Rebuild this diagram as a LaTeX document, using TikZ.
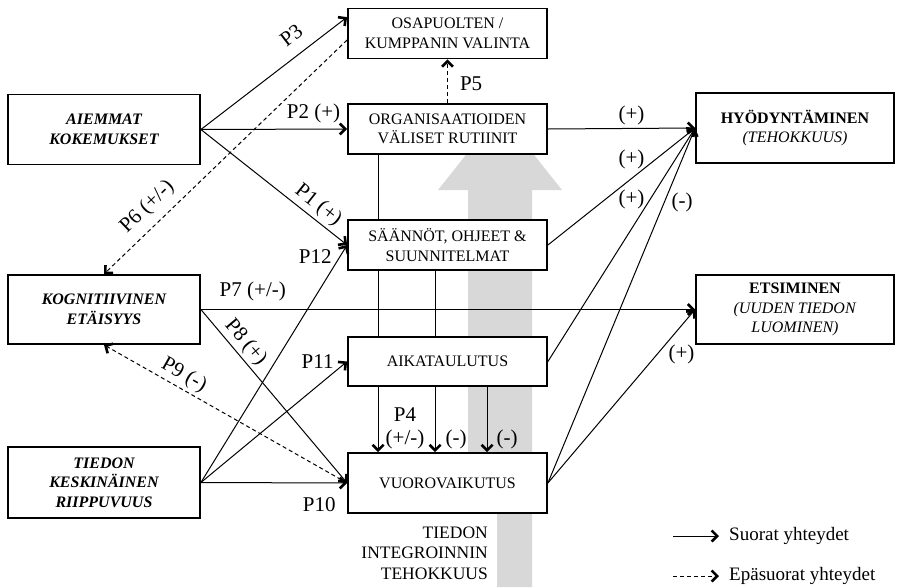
\documentclass[tikz,border=0pt]{standalone}
\usepackage{fontspec}
\setmainfont{Liberation Serif}
\usetikzlibrary{arrows.meta,calc}
\definecolor{arrowgray}{RGB}{216,216,216}
\begin{document}
\begin{tikzpicture}[x=1pt,y=-1pt,
  box/.style={draw,line width=1.8pt,fill=white,align=center,inner sep=2pt,font=\fontsize{16}{19.5}\selectfont},
  midbox/.style={box,minimum width=199pt,minimum height=50pt},
  sidebox/.style={box,minimum width=192pt,minimum height=70pt,font=\fontsize{16}{19.5}\selectfont\bfseries\itshape},
  outbox/.style={box,minimum width=198pt,minimum height=70pt},
  conn/.style={line width=1pt,-{Straight Barb[length=5.5pt,width=11pt,line width=2.6pt]}},
  dconn/.style={conn,dash pattern=on 4pt off 3pt},
  plain/.style={line width=1pt},
  plab/.style={font=\fontsize{21}{21}\selectfont,inner sep=1pt},
  slab/.style={font=\fontsize{21}{21}\selectfont,inner sep=1pt},
]
\useasboundingbox (0,0) rectangle (900,587);
% big gray arrow
\fill[arrowgray] (468,587) -- (468,190) -- (438,190) -- (500,112) -- (562,190) -- (532,190) -- (532,587) -- cycle;

% boxes
\node[midbox] (osa) at (447.5,33.5) {OSAPUOLTEN /\\KUMPPANIN VALINTA};
\node[midbox] (org) at (447.5,129) {ORGANISAATIOIDEN\\VÄLISET RUTIINIT};
\node[midbox] (saa) at (447.5,245) {SÄÄNNÖT, OHJEET \&\\SUUNNITELMAT};
\node[midbox,minimum height=49pt] (aika) at (447.5,361.5) {AIKATAULUTUS};
\node[midbox,minimum height=60pt] (vuoro) at (447.5,483) {VUOROVAIKUTUS};
\node[sidebox] (aiem) at (104,129.5) {AIEMMAT\\KOKEMUKSET};
\node[sidebox,minimum height=69pt] (kog) at (104,309.5) {KOGNITIIVINEN\\ETÄISYYS};
\node[sidebox,minimum height=71pt] (tied) at (104,482.5) {TIEDON\\KESKINÄINEN\\RIIPPUVUUS};
\node[outbox] (hyod) at (795,128) {\textbf{HYÖDYNTÄMINEN}\\\textit{(TEHOKKUUS)}};
\node[outbox,minimum height=69pt] (ets) at (795,309.5) {\textbf{ETSIMINEN}\\\textit{(UUDEN TIEDON}\\\textit{LUOMINEN)}};

% bottom text over the arrow
\node[anchor=north east,fill=white,inner xsep=9pt,inner ysep=0pt,align=right,
  font=\fontsize{17.5}{20.5}\selectfont] (tit) at (497,514)
  {\rule{0pt}{24pt}TIEDON\\INTEGROINNIN\\TEHOKKUUS\rule[-10pt]{0pt}{0pt}};

% connectors from AIEMMAT
\draw[conn] (aiem.east) -- node[plab,sloped,above=11pt,pos=0.70] (lp3) {P3} ([yshift=-9.5pt]osa.north west);
\draw[conn] (aiem.east) -- node[plab,above=5pt,pos=0.77] (lp2) {P2 (+)} (org.west);
\draw[conn] (aiem.east) -- node[plab,sloped,above=2pt,pos=0.746] (lp1) {P1 (+)} (saa.west);
\draw[dconn] ([yshift=-6.5pt]osa.west) -- node[plab,sloped,above=7pt,pos=0.77] (lp6) {P6 (+/-)} (kog.north);

% from KOGNITIIVINEN
\draw[conn] (kog.east) -- node[plab,above=7pt,pos=0.105] (lp7) {P7 (+/-)} (ets.west);
\draw[conn] (kog.east) -- node[plab,sloped,above=2pt,pos=0.237] (lp8) {P8 (+)} (vuoro.west);
\draw[dconn] (vuoro.west) -- node[plab,sloped,above=2pt,pos=0.698] (lp9) {P9 (-)} (kog.south);

% from TIEDON
\draw[conn] (tied.east) -- (saa.west) node[plab,at end,anchor=east,xshift=-14pt,yshift=-11.5pt] (lp12) {P12};
\draw[conn] (tied.east) -- (aika.west) node[plab,at end,anchor=east,xshift=-12pt] (lp11) {P11};
\draw[conn] (tied.east) -- (vuoro.west) node[plab,at end,anchor=east,xshift=-10pt,yshift=-21.5pt] (lp10) {P10};

% P5
\draw[dconn] (org.north) -- node[plab,anchor=west,xshift=11pt,yshift=-2pt] (lp5) {P5} (osa.south);

% vertical lines
\draw[plain] ([xshift=31pt]org.south west) -- ([xshift=31pt]saa.north west);
\draw[plain] ([xshift=31pt]saa.south west) -- ([xshift=31pt]aika.north west);
\draw[plain] ([xshift=88pt]saa.south west) -- ([xshift=88pt]aika.north west);
\draw[conn] ([xshift=31pt]aika.south west) -- ([xshift=31pt]vuoro.north west);
\draw[conn] ([xshift=88pt]aika.south west) -- ([xshift=88pt]vuoro.north west);
\draw[conn] ([xshift=140pt]aika.south west) -- ([xshift=140pt]vuoro.north west);
\node[plab] (lp4) at (405,414.5) {P4};
\node[slab] (s4a) at (405,439) {(+/-)};
\node[slab] (s4b) at (456,439) {(-)};
\node[slab] (s4c) at (507,439) {(-)};

% to outcomes
\draw[conn] (org.east) -- (hyod.west);
\draw[conn] (saa.east) -- (hyod.west);
\draw[conn] (aika.east) -- (hyod.west);
\draw[conn] (vuoro.east) -- (hyod.west);
\draw[conn] (vuoro.east) -- (ets.west);
\node[slab] (s1) at (631.5,115.5) {(+)};
\node[slab] (s2) at (631.5,159) {(+)};
\node[slab] (s3) at (631.5,199) {(+)};
\node[slab] (s5) at (682,202.5) {(-)};
\node[slab] (s6) at (681.5,354) {(+)};

% legend
\coordinate (l1a) at (673,536);
\coordinate (l1b) at (719,536);
\coordinate (l2a) at (673,576);
\coordinate (l2b) at (719,576);
\draw[conn] (l1a) -- (l1b);
\draw[dconn] (l2a) -- (l2b);
\node[anchor=west,inner sep=0pt,font=\fontsize{19}{19}\selectfont] (leg1) at (729,536) {Suorat yhteydet};
\node[anchor=west,inner sep=0pt,font=\fontsize{19}{19}\selectfont] (leg2) at (729,576) {Epäsuorat yhteydet};
\end{tikzpicture}
\end{document}
